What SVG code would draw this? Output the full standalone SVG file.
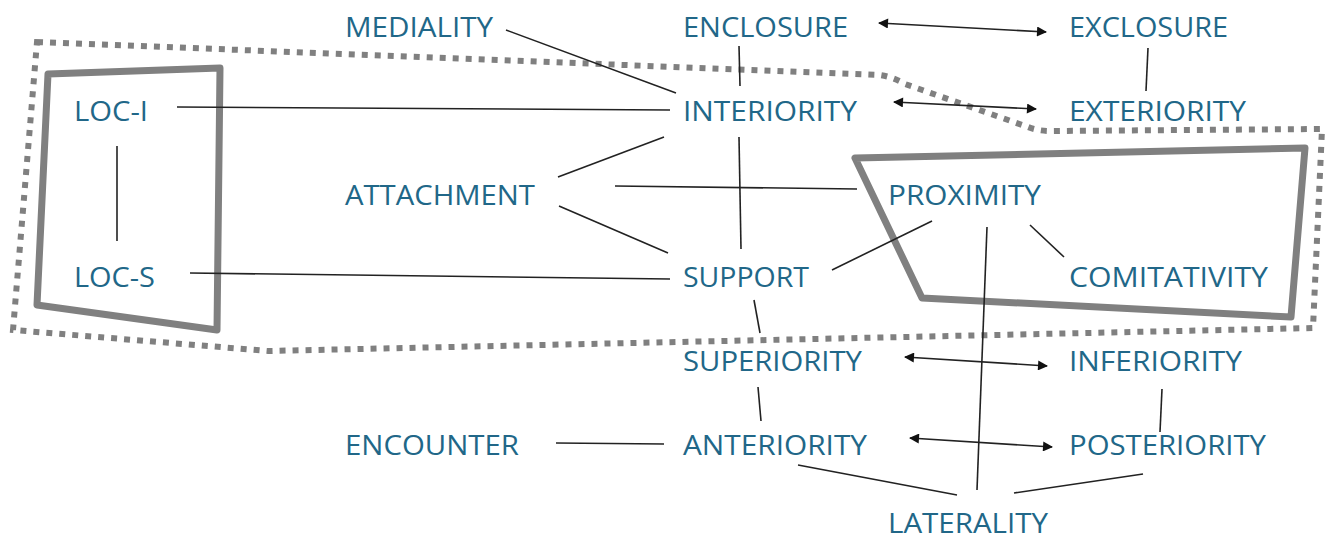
<svg xmlns="http://www.w3.org/2000/svg" width="1330" height="541" viewBox="0 0 1330 541">
<defs>
<style>
.t{font-family:"Open Sans","Liberation Sans",sans-serif;font-size:27px;fill:#216788}
.c line{stroke:#222;stroke-width:1.6;fill:none}
.box{fill:none;stroke:#808080;stroke-width:7;stroke-linejoin:round}
.dot{fill:none;stroke:#808080;stroke-width:6;stroke-dasharray:6 7}
</style>
<marker id="ah" viewBox="0 0 10 10" refX="9" refY="5" markerWidth="12" markerHeight="10" markerUnits="userSpaceOnUse" orient="auto-start-reverse">
<path d="M0,0 L10,5 L0,10 Z" fill="#111"/>
</marker>
</defs>
<rect width="1330" height="541" fill="#fff"/>
<g id="regions">
<path class="dot" d="M37,42 L880,75 Q893,77 905,84 L1028,127 Q1038,131 1050,131 L1322,129 L1313,328 L268,351 L13,330 Z"/>
<polygon class="box" points="48,74 220,68 217,330 37,305"/>
<polygon class="box" points="855,158 1305,148 1291,317 922,298"/>
</g>
<g class="c" id="connectors">
<line x1="506" y1="30" x2="676" y2="93"/>
<line x1="739" y1="46" x2="740" y2="86"/>
<line x1="879" y1="23" x2="1046" y2="32" marker-start="url(#ah)" marker-end="url(#ah)"/>
<line x1="1148" y1="48" x2="1146" y2="91"/>
<line x1="894" y1="102" x2="1036" y2="109" marker-start="url(#ah)" marker-end="url(#ah)"/>
<line x1="177" y1="107" x2="670" y2="110"/>
<line x1="117" y1="146" x2="117" y2="241"/>
<line x1="190" y1="273" x2="670" y2="279"/>
<line x1="739" y1="137" x2="741" y2="249"/>
<line x1="664" y1="137" x2="558" y2="177"/>
<line x1="559" y1="206" x2="668" y2="253"/>
<line x1="615" y1="186" x2="857" y2="189"/>
<line x1="832" y1="270" x2="932" y2="221"/>
<line x1="1030" y1="225" x2="1064" y2="257"/>
<line x1="987" y1="227" x2="977" y2="490"/>
<line x1="754" y1="300" x2="760" y2="333"/>
<line x1="905" y1="357" x2="1047" y2="366" marker-start="url(#ah)" marker-end="url(#ah)"/>
<line x1="758" y1="387" x2="761" y2="421"/>
<line x1="1162" y1="389" x2="1160" y2="432"/>
<line x1="910" y1="438" x2="1052" y2="447" marker-start="url(#ah)" marker-end="url(#ah)"/>
<line x1="556" y1="443" x2="664" y2="444"/>
<line x1="798" y1="465" x2="957" y2="495"/>
<line x1="1143" y1="474" x2="1014" y2="493"/>
</g>
<g id="n-mediality"><text class="t" x="345" y="37" textLength="148" lengthAdjust="spacingAndGlyphs">MEDIALITY</text></g>
<g id="n-enclosure"><text class="t" x="683" y="37" textLength="165" lengthAdjust="spacingAndGlyphs">ENCLOSURE</text></g>
<g id="n-exclosure"><text class="t" x="1069" y="37" textLength="159" lengthAdjust="spacingAndGlyphs">EXCLOSURE</text></g>
<g id="n-loci"><text class="t" x="74" y="121" textLength="74" lengthAdjust="spacingAndGlyphs">LOC-I</text></g>
<g id="n-interiority"><text class="t" x="683" y="121" textLength="174" lengthAdjust="spacingAndGlyphs">INTERIORITY</text></g>
<g id="n-exteriority"><text class="t" x="1069" y="121" textLength="177" lengthAdjust="spacingAndGlyphs">EXTERIORITY</text></g>
<g id="n-attachment"><text class="t" x="345" y="205" textLength="190" lengthAdjust="spacingAndGlyphs">ATTACHMENT</text></g>
<g id="n-proximity"><text class="t" x="888" y="205" textLength="153" lengthAdjust="spacingAndGlyphs">PROXIMITY</text></g>
<g id="n-locs"><text class="t" x="74" y="287" textLength="81" lengthAdjust="spacingAndGlyphs">LOC-S</text></g>
<g id="n-support"><text class="t" x="683" y="287" textLength="126" lengthAdjust="spacingAndGlyphs">SUPPORT</text></g>
<g id="n-comitativity"><text class="t" x="1069" y="287" textLength="199" lengthAdjust="spacingAndGlyphs">COMITATIVITY</text></g>
<g id="n-superiority"><text class="t" x="683" y="371" textLength="179" lengthAdjust="spacingAndGlyphs">SUPERIORITY</text></g>
<g id="n-inferiority"><text class="t" x="1069" y="371" textLength="173" lengthAdjust="spacingAndGlyphs">INFERIORITY</text></g>
<g id="n-encounter"><text class="t" x="345" y="455" textLength="174" lengthAdjust="spacingAndGlyphs">ENCOUNTER</text></g>
<g id="n-anteriority"><text class="t" x="683" y="455" textLength="184" lengthAdjust="spacingAndGlyphs">ANTERIORITY</text></g>
<g id="n-posteriority"><text class="t" x="1069" y="455" textLength="197" lengthAdjust="spacingAndGlyphs">POSTERIORITY</text></g>
<g id="n-laterality"><text class="t" x="888" y="533" textLength="160" lengthAdjust="spacingAndGlyphs">LATERALITY</text></g>
</svg>
